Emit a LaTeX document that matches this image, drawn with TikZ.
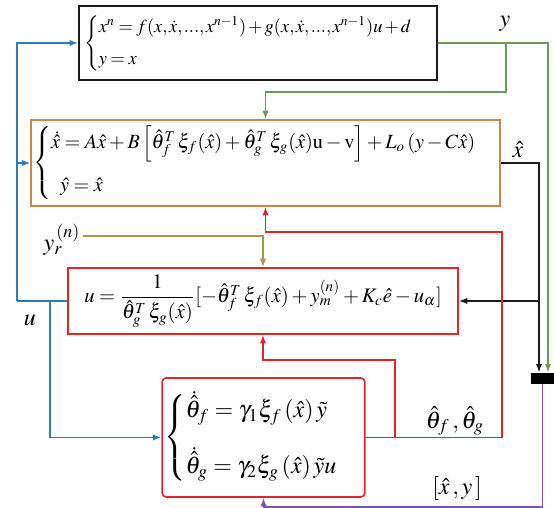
\documentclass[tikz,border=0pt]{standalone}
\usepackage{amsmath, amssymb}
\usepackage{mathptmx}
\usepackage{xcolor}
\usetikzlibrary{arrows.meta, positioning, calc}
\definecolor{cblue}{HTML}{2A7DB8}
\definecolor{cgreen}{HTML}{6E9A58}
\definecolor{corange}{HTML}{C8864A}
\definecolor{cred}{HTML}{E0262A}
\definecolor{colive}{HTML}{A39A4E}
\definecolor{cpurple}{HTML}{8050B4}
\definecolor{cline}{HTML}{1A1A1A}

\begin{document}
\begin{tikzpicture}[
  x=0.5pt, y=-0.5pt,
  >={Latex[length=1.5mm, width=1.1mm]},
  box/.style={draw, line width=0.8pt, inner sep=1pt, align=left},
  plant/.style={box, draw=cline, inner ysep=0pt, minimum width=179pt, minimum height=37pt, font=\fontsize{9.2}{11}\selectfont},
  observer/.style={box, draw=corange, minimum width=230.5pt, minimum height=43pt, font=\fontsize{10.1}{12.1}\selectfont},
  ctrl/.style={box, draw=cred, minimum width=195pt, minimum height=33pt, font=\fontsize{10.3}{12.4}\selectfont},
  adapt/.style={box, draw=cred, rounded corners=2pt, minimum width=96.5pt, minimum height=59.5pt, font=\large},
  mux/.style={fill=black, minimum width=11.5pt, minimum height=5.5pt, inner sep=0pt},
  lbl/.style={inner sep=1pt, font=\large},
  gline/.style={draw=cgreen, line width=0.7pt},
  kline/.style={draw=cline, line width=0.7pt},
  bline/.style={draw=cblue, line width=0.7pt},
  rline/.style={draw=cred, line width=0.7pt},
  oline/.style={draw=colive, line width=0.7pt},
  pline/.style={draw=cpurple, line width=0.7pt},
  ]
\useasboundingbox (0,0) rectangle (554,508);

% blocks
\node[plant] (sys) at (258,43) {$\thinmuskip=1.5mu \medmuskip=2mu \thickmuskip=3.5mu \begin{cases}
  x^{n} = f(x,\dot{x},...,x^{n-1}) + g(x,\dot{x},...,x^{n-1})u + d\\[3pt]
  y = x
\end{cases}$};
\node[observer] (obs) at (265.5,163) {$\begin{cases}
  \dot{\hat{x}} = A\hat{x} + B\left[\hat{\theta}_f^{T}\,\xi_f(\hat{x}) + \hat{\theta}_g^{T}\,\xi_g(\hat{x})\mathrm{u} - \mathrm{v}\right] + L_o\left(y - C\hat{x}\right)\\[7pt]
  \;\;\hat{y} = \hat{x}
\end{cases}$};
\node[ctrl] (ctl) at (263,301) {$u = \dfrac{1}{\hat{\theta}_g^{T}\,\xi_g(\hat{x})}[-\hat{\theta}_f^{T}\,\xi_f(\hat{x}) + y_m^{(n)} + K_c\hat{e} - u_\alpha]$};
\node[adapt] (law) at (263.5,437.5) {$\begin{cases}
  \dot{\hat{\theta}}_f = \gamma_1\xi_f\left(\hat{x}\right)\tilde{y}\\[10pt]
  \dot{\hat{\theta}}_g = \gamma_2\xi_g\left(\hat{x}\right)\tilde{y}u
\end{cases}$};
\node[mux] (mux) at (542.5,378.5) {};

% labels
\node[lbl] (ylbl) at (505,24) {$y$};
\node[lbl] (xlbl) at (518,150) {$\hat{x}$};
\node[lbl] (yref) at (62,240) {$y_r^{\,(n)}$};
\node[lbl] (ulbl) at (30,320) {$u$};
\node[lbl] (thlbl) at (455,421) {$\hat{\theta}_f\,,\hat{\theta}_g$};
\node[lbl] (fblbl) at (457,489) {$[\hat{x}\,,y\,]$};

% bus lines
\coordinate (gbus) at (548,0);
\coordinate (ytap) at (506,42);
\coordinate (kbus) at (539,0);
\coordinate (ubus) at (17,0);
\coordinate (ubr) at (50,0);
\coordinate (rtop) at (502,232);
\coordinate (rmid) at (395,360);
\coordinate (pbot) at (0,507);

% measured output y
\draw[gline,->] (sys.east) -| (gbus |- mux.north);
\draw[gline,->] (ytap) -- (506,92) -| (obs.north);

% estimated state
\draw[kline,->] (obs.east) -| (kbus |- mux.north);
\draw[kline,->] (kbus |- ctl.east) -- (ctl.east);

% control input u
\draw[bline] (ctl.west) -- (ubus |- ctl.west);
\draw[bline,->] (ubus |- ctl.west) |- (sys.west);
\draw[bline,->] (ubus |- obs.west) -- (obs.west);
\draw[bline,->] (ubr |- ctl.west) |- (law.west);

% reference
\draw[oline,->] ([yshift=2pt]yref.east) -| (ctl.north);

% parameter estimates
\draw[rline,->] (law.east) -| (rtop) -| (obs.south);
\draw[rline,->] (law.east -| rmid) -- (rmid) -| (ctl.south);

% feedback to adaptation law
\draw[pline,->] (mux.south) -- (mux.south |- pbot) -| (law.south);
\end{tikzpicture}
\end{document}
